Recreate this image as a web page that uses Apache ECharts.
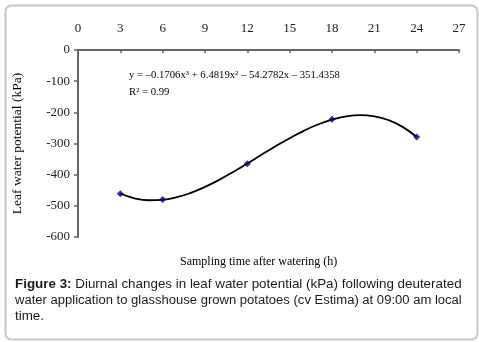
<!DOCTYPE html>
<html>
<head>
<meta charset="utf-8">
<script src="https://cdn.jsdelivr.net/npm/echarts@6/dist/echarts.min.js"></script>
<style>
  html, body { margin: 0; padding: 0; background: #fff; }
  #chart { width: 479px; height: 342px; }
</style>
</head>
<body>
<div id="chart"></div>
<script>
// sampling times (h) and measured leaf water potential (kPa)
var hours = [3, 6, 12, 18, 24];
var potential = [-461, -480, -365, -222, -279];

// polynomial trendline
var trendHours = [3, 4, 5, 6, 7, 8, 9, 10, 11, 12, 13, 14, 15, 16, 17, 18, 19, 20, 21, 22, 23, 24];
var trendValues = [-460.5, -475.8, -482.1, -480.6, -472.3, -458.2, -439.3, -416.6, -391.3, -364.2, -336.4,
  -309.0, -283.0, -259.3, -239.1, -223.3, -212.9, -209.0, -212.7, -224.9, -246.6, -279.0];

var equation = 'y = \u20130.1706x\u00b3 + 6.4819x\u00b2 \u2013 54.2782x \u2013 351.4358';
var rSquared = 'R\u00b2 = 0.99';

var dom = document.getElementById("chart");
var myChart = echarts.init(dom);

var serif = '"Liberation Serif", "DejaVu Serif", serif';
var sans = '"Liberation Sans", Arial, sans-serif';

var pts = [];
for (var i = 0; i < hours.length; i++) pts.push([hours[i], potential[i]]);
var trend = [];
for (var j = 0; j < trendHours.length; j++) trend.push([trendHours[j], trendValues[j]]);

var option = {
  animation: false,
  grid: { left: 78, top: 50, right: 20, bottom: 105 },
  xAxis: {
    type: 'value',
    position: 'top',
    min: 0, max: 27, interval: 3,
    axisLine: { show: true, lineStyle: { color: '#666', width: 2 } },
    axisTick: { show: true, inside: true, length: 3, lineStyle: { color: '#666', width: 1.5 } },
    axisLabel: { fontFamily: serif, fontSize: 13, color: '#222', margin: 15 },
    splitLine: { show: false }
  },
  yAxis: {
    type: 'value',
    min: -600, max: 0, interval: 100,
    name: 'Leaf water potential (kPa)',
    nameLocation: 'middle',
    nameGap: 54,
    nameTextStyle: { fontFamily: serif, fontSize: 13.5, color: '#000' },
    axisLine: { show: true, lineStyle: { color: '#666', width: 2 } },
    axisTick: { show: true, length: 4, lineStyle: { color: '#666', width: 1.5 } },
    axisLabel: { fontFamily: serif, fontSize: 13, color: '#222', margin: 8 },
    splitLine: { show: false }
  },
  graphic: [
    {
      type: 'rect', left: 3, top: 3, silent: true,
      shape: { width: 472, height: 334, r: 6 },
      style: { fill: 'none', stroke: '#c8c8c8', lineWidth: 2 }
    },
    {
      type: 'text', left: 129, top: 70,
      style: { text: equation, font: '10.7px ' + serif, fill: '#000' }
    },
    {
      type: 'text', left: 129, top: 87,
      style: { text: rSquared, font: '10.7px ' + serif, fill: '#000' }
    },
    {
      type: 'text', left: 180, top: 256,
      style: { text: 'Sampling time after watering (h)', font: '12px ' + serif, fill: '#000' }
    },
    {
      type: 'text', left: 15, top: 278,
      style: {
        text: '{b|Figure 3:} Diurnal changes in leaf water potential (kPa) following deuterated',
        font: '13.4px ' + sans,
        fill: '#1a1a1a',
        rich: {
          b: { fontWeight: 'bold', fontFamily: sans, fontSize: 13.4, fill: '#1a1a1a' }
        }
      }
    },
    {
      type: 'text', left: 15, top: 294,
      style: {
        text: 'water application to glasshouse grown potatoes (cv Estima) at 09:00 am local',
        font: '13.05px ' + sans,
        fill: '#1a1a1a'
      }
    },
    {
      type: 'text', left: 15, top: 310,
      style: { text: 'time.', font: '13.4px ' + sans, fill: '#1a1a1a' }
    }
  ],
  series: [
    {
      type: 'line',
      data: trend,
      smooth: true,
      showSymbol: false,
      symbol: 'none',
      lineStyle: { color: '#000', width: 1.8 },
      z: 2
    },
    {
      type: 'scatter',
      data: pts,
      symbol: 'diamond',
      symbolSize: 7,
      itemStyle: { color: '#000080' },
      z: 3
    }
  ]
};
myChart.setOption(option, true);
</script>
</body>
</html>
